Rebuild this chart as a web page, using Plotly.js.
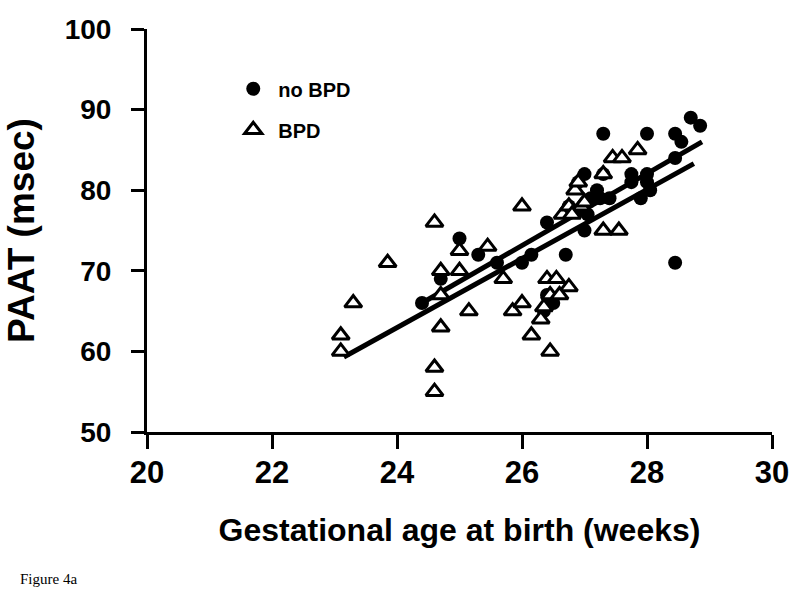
<!DOCTYPE html>
<html>
<head>
<meta charset="utf-8">
<script src="https://cdn.plot.ly/plotly-3.0.1.min.js"></script>
<style>html,body{margin:0;padding:0;background:#fff;}#chart{width:800px;height:596px;}</style>
</head>
<body>
<div id="chart"></div>
<script>
// no BPD (filled circles)
const noBpdAge = [24.4, 24.7, 25.0, 25.3, 25.6, 26.0, 26.15, 26.4, 26.7, 27.0, 26.9, 27.0, 27.3, 28.0, 28.45, 28.7, 28.85, 28.55, 28.45, 28.0, 28.0, 28.05, 27.9, 27.75, 27.75, 27.4, 27.25, 27.1, 27.05, 27.2, 28.45, 26.4, 26.5, 26.35, 27.3, 26.75, 26.9];
const noBpdPaat = [66, 69, 74, 72, 71, 71, 72, 76, 72, 75, 81, 82, 87, 87, 87, 89, 88, 86, 84, 82, 81, 80, 79, 82, 81, 79, 79, 79, 77, 80, 71, 67, 66, 65, 82, 78, 77.5];
// BPD (open triangles)
const bpdAge = [23.1, 23.1, 23.3, 23.85, 24.6, 24.6, 24.6, 24.7, 24.7, 24.7, 25.0, 25.0, 25.15, 25.45, 25.7, 25.85, 26.0, 26.0, 26.15, 26.45, 26.4, 26.55, 26.75, 26.3, 26.35, 26.45, 26.6, 26.65, 26.75, 26.85, 26.9, 26.95, 27.0, 27.3, 27.45, 27.6, 27.85, 27.3, 27.55, 26.8];
const bpdPaat = [62, 60, 66, 71, 76, 58, 55, 63, 70, 67, 72.5, 70, 65, 73, 69, 65, 66, 78, 62, 60, 69, 69, 68, 64, 65.5, 67, 67, 77, 78, 80, 81, 78, 78.5, 82, 84, 84, 85, 75, 75, 77];
// regression lines (end points)
const fitNoBpdAge = [24.4, 28.88];
const fitNoBpdPaat = [66.0, 86.0];
const fitBpdAge = [23.15, 28.75];
const fitBpdPaat = [59.3, 83.3];
// axes
const xTicks = [20, 22, 24, 26, 28, 30];
const yTicks = [50, 60, 70, 80, 90, 100];

const font = {family: 'Liberation Sans, Arial, Helvetica, sans-serif', color: '#000', weight: 'bold'};

const traces = [
  {x: fitBpdAge, y: fitBpdPaat, mode: 'lines', line: {color: '#000', width: 5}, showlegend: false, hoverinfo: 'skip'},
  {x: fitNoBpdAge, y: fitNoBpdPaat, mode: 'lines', line: {color: '#000', width: 5}, showlegend: false, hoverinfo: 'skip'},
  {x: noBpdAge, y: noBpdPaat, mode: 'markers', name: 'no BPD', legendgroup: 'a', legendrank: 1,
   marker: {symbol: 'circle', size: 14, color: '#000'}},
  {x: bpdAge, y: bpdPaat, mode: 'markers', name: 'BPD', legendgroup: 'b', legendrank: 2,
   marker: {symbol: 'triangle-up', size: 15, color: '#fff', line: {color: '#000', width: 3}}}
];

const layout = {
  width: 800, height: 596,
  paper_bgcolor: '#fff', plot_bgcolor: '#fff',
  margin: {l: 147, r: 28, t: 29, b: 164},
  showlegend: true,
  legend: {x: 0.13, y: 0.9, xanchor: 'left', yanchor: 'top', bgcolor: 'rgba(0,0,0,0)',
           font: Object.assign({}, font, {size: 20}), tracegroupgap: 12, itemwidth: 40},
  xaxis: {
    range: [20, 30], tickvals: xTicks, ticktext: xTicks.map(String),
    showgrid: false, zeroline: false, showline: true, linecolor: '#000', linewidth: 3,
    ticks: 'outside', ticklen: 14, tickwidth: 3, tickcolor: '#000',
    ticklabelstandoff: -3,
    tickfont: Object.assign({}, font, {size: 31}),
    title: {text: 'Gestational age at birth (weeks)', font: Object.assign({}, font, {size: 32}), standoff: 30}
  },
  yaxis: {
    range: [50, 100], tickvals: yTicks, ticktext: yTicks.map(String),
    showgrid: false, zeroline: false, showline: true, linecolor: '#000', linewidth: 3,
    ticks: 'outside', ticklen: 13, tickwidth: 3, tickcolor: '#000',
    ticklabelstandoff: 14,
    tickfont: Object.assign({}, font, {size: 28}),
    title: {text: 'PAAT (msec)', font: Object.assign({}, font, {size: 37}), standoff: 19}
  },
  annotations: [
    {text: 'Figure 4a', xref: 'paper', yref: 'paper', x: -0.207, y: -0.365, xanchor: 'left', yanchor: 'middle',
     showarrow: false, font: {family: 'Liberation Serif, Times New Roman, serif', size: 15, color: '#000'}}
  ]
};

Plotly.newPlot('chart', traces, layout, {displayModeBar: false, staticPlot: true});
</script>
</body>
</html>
